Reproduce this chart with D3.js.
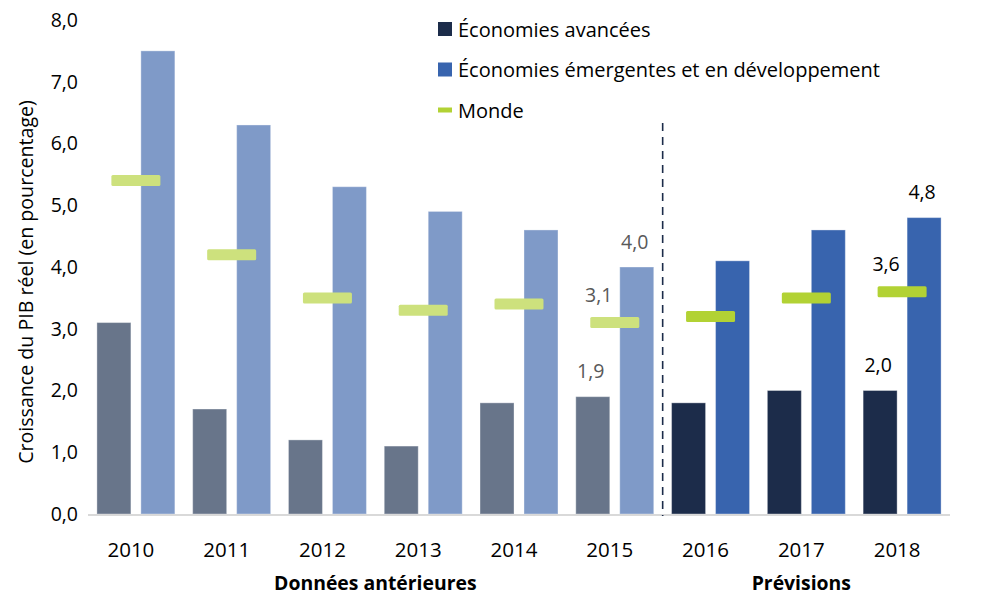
<!DOCTYPE html>
<html>
<head>
<meta charset="utf-8">
<script src="https://cdn.jsdelivr.net/npm/d3@7"></script>
<style>
  body { margin: 0; background: #fff; }
  svg { font-family: "Open Sans", "Noto Sans", sans-serif; }
</style>
</head>
<body>
<svg id="chart" width="1003" height="605"></svg>
<script>
// Données
const years = ["2010", "2011", "2012", "2013", "2014", "2015", "2016", "2017", "2018"];
const advanced = [3.1, 1.7, 1.2, 1.1, 1.8, 1.9, 1.8, 2.0, 2.0];
const emerging = [7.5, 6.3, 5.3, 4.9, 4.6, 4.0, 4.1, 4.6, 4.8];
const world = [5.4, 4.2, 3.5, 3.3, 3.4, 3.1, 3.2, 3.5, 3.6];
const forecastYears = ["2016", "2017", "2018"];
const yTicks = [0, 1, 2, 3, 4, 5, 6, 7, 8];
const legendLabels = ["Économies avancées", "Économies émergentes et en développement", "Monde"];
const groupLabels = ["Données antérieures", "Prévisions"];
const yTitle = "Croissance du PIB réel (en pourcentage)";
// étiquettes de valeurs affichées (année, série)
const valueLabels = [
  { year: "2015", series: "adv" },
  { year: "2015", series: "world" },
  { year: "2015", series: "emer" },
  { year: "2018", series: "adv" },
  { year: "2018", series: "world" },
  { year: "2018", series: "emer" }
];

const colors = {
  adv: { past: "#68758a", future: "#1c2c4a" },
  emer: { past: "#7f9ac8", future: "#3864ae" },
  world: { past: "#cde17d", future: "#b2d234" }
};

const fr = d3.formatLocale({ decimal: ",", thousands: " ", grouping: [3], currency: ["", " €"] });
const fmt = fr.format(".1f");

const svg = d3.select("#chart");
const plotLeft = 88, plotRight = 950, plotTop = 20, plotBottom = 514;

const x0 = d3.scaleBand().domain(years).range([plotLeft, plotRight]).paddingInner(0.186).paddingOuter(0.093);
const x1 = d3.scaleBand().domain(["adv", "emer"]).range([0, x0.bandwidth()]).paddingInner(0.227);
const y = d3.scaleLinear().domain([0, 8]).range([plotBottom, plotTop]);

const isFuture = yr => forecastYears.includes(yr);
const seriesData = { adv: advanced, emer: emerging, world: world };

// Axe Y (étiquettes seules)
const yAxis = svg.append("g")
  .attr("transform", `translate(${plotLeft - 8},0)`)
  .call(d3.axisLeft(y).tickValues(yTicks).tickFormat(fmt).tickSize(0).tickPadding(2));
yAxis.select(".domain").remove();
yAxis.selectAll("text").attr("font-size", 19.5).attr("fill", "#000").attr("font-family", "Open Sans");

// Titre de l'axe Y
svg.append("text")
  .attr("transform", `translate(25,282) rotate(-90)`)
  .attr("text-anchor", "middle")
  .attr("dominant-baseline", "central")
  .attr("font-size", 19.6)
  .attr("fill", "#000")
  .text(yTitle);

// Barres
const groups = svg.append("g").selectAll("g")
  .data(years)
  .join("g")
  .attr("transform", d => `translate(${x0(d)},0)`);

["adv", "emer"].forEach(s => {
  groups.append("rect")
    .attr("x", x1(s))
    .attr("width", x1.bandwidth())
    .attr("y", (d, i) => y(seriesData[s][i]))
    .attr("height", (d, i) => plotBottom - y(seriesData[s][i]))
    .attr("fill", d => isFuture(d) ? colors[s].future : colors[s].past)
    .attr("stroke", "#ffffff")
    .attr("stroke-opacity", 0.35)
    .attr("stroke-width", 1);
});

// Ligne de base
svg.append("line")
  .attr("x1", plotLeft).attr("x2", plotRight)
  .attr("y1", plotBottom + 1).attr("y2", plotBottom + 1)
  .attr("stroke", "#d9d9d9").attr("stroke-width", 2);

// Marqueurs Monde
const markW = 49, markH = 11;
groups.append("rect")
  .attr("x", x0.bandwidth() / 2 - markW / 2)
  .attr("y", (d, i) => y(world[i]) - markH / 2)
  .attr("width", markW)
  .attr("height", markH)
  .attr("rx", 1.5)
  .attr("fill", d => isFuture(d) ? colors.world.future : colors.world.past);

// Séparateur pointillé
const sepX = (x0("2015") + x0.bandwidth() + x0("2016")) / 2;
svg.append("line")
  .attr("x1", sepX).attr("x2", sepX)
  .attr("y1", 123).attr("y2", plotBottom + 2)
  .attr("stroke", "#1c2c4a").attr("stroke-width", 1.6)
  .attr("stroke-dasharray", "8,6");

// Étiquettes de l'axe X
svg.append("g").selectAll("text")
  .data(years)
  .join("text")
  .attr("x", d => x0(d) + x0.bandwidth() / 2 - 5)
  .attr("y", 549)
  .attr("text-anchor", "middle")
  .attr("dominant-baseline", "central")
  .attr("font-size", 20.5)
  .attr("fill", "#000")
  .text(d => d);

// Titres des groupes
const pastYears = years.filter(yr => !isFuture(yr));
const groupCenter = arr => d3.mean(arr, yr => x0(yr) + x0.bandwidth() / 2);
svg.append("g").selectAll("text")
  .data([
    { label: groupLabels[0], cx: groupCenter(pastYears) },
    { label: groupLabels[1], cx: groupCenter(forecastYears) - 5 }
  ])
  .join("text")
  .attr("x", d => d.cx)
  .attr("y", 582)
  .attr("text-anchor", "middle")
  .attr("dominant-baseline", "central")
  .attr("font-size", 19.4)
  .attr("font-weight", "bold")
  .attr("fill", "#000")
  .text(d => d.label);

// Étiquettes de valeurs
svg.append("g").selectAll("text")
  .data(valueLabels)
  .join("text")
  .attr("x", d => {
    const cx = x0(d.year);
    if (d.series === "world") return cx + x0.bandwidth() / 2 - 16;
    return cx + x1(d.series) + x1.bandwidth() / 2 - 2;
  })
  .attr("y", d => {
    const v = seriesData[d.series][years.indexOf(d.year)];
    return y(v) - (d.series === "world" ? 28 : 26);
  })
  .attr("text-anchor", "middle")
  .attr("dominant-baseline", "central")
  .attr("font-size", 19.5)
  .attr("fill", d => isFuture(d.year) ? "#000" : "#595959")
  .text(d => fmt(seriesData[d.series][years.indexOf(d.year)]));

// Légende
const legendColors = [colors.adv.future, colors.emer.future, colors.world.future];
const legend = svg.append("g").selectAll("g")
  .data(legendLabels)
  .join("g")
  .attr("transform", (d, i) => `translate(438,${29 + i * 40.5})`);

legend.append("rect")
  .attr("x", 0)
  .attr("y", (d, i) => i === 2 ? -2.5 : -7)
  .attr("width", 14)
  .attr("height", (d, i) => i === 2 ? 5 : 14)
  .attr("fill", (d, i) => legendColors[i]);

legend.append("text")
  .attr("x", 20)
  .attr("y", 0)
  .attr("dominant-baseline", "central")
  .attr("font-size", 20)
  .attr("fill", "#000")
  .text(d => d);
</script>
</body>
</html>
